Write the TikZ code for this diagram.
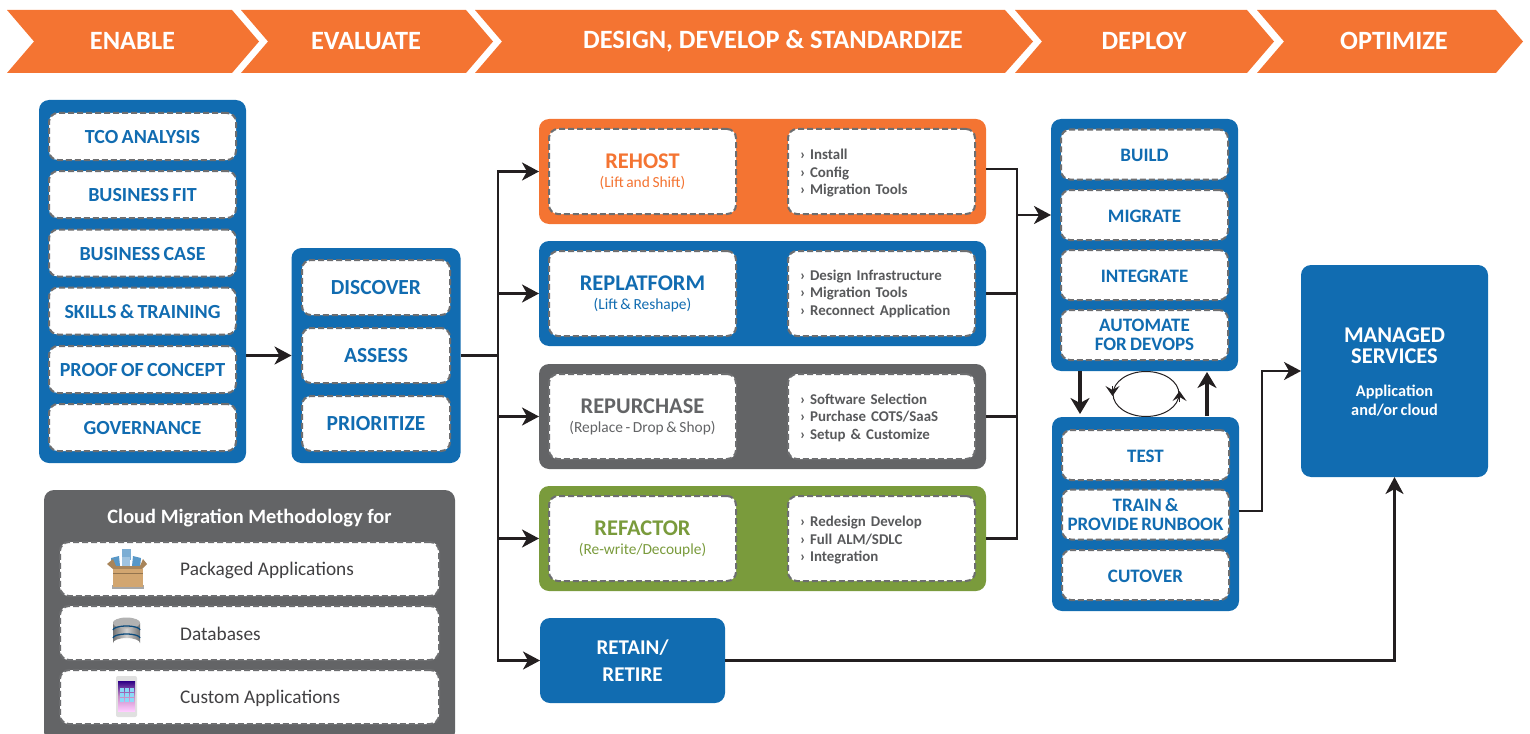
\documentclass[tikz,border=0pt]{standalone}
\usepackage{fontspec}
\setmainfont{Carlito}[WordSpace=0.75]
\newfontfamily\headfont{Carlito}
\usetikzlibrary{arrows.meta,shapes.geometric,calc}
\definecolor{corange}{HTML}{F47432}
\definecolor{cblue}{HTML}{116CB1}
\definecolor{cgray}{HTML}{636466}
\definecolor{cgreen}{HTML}{7A9B3C}
\definecolor{cdash}{HTML}{6D6E70}
\definecolor{ctext}{HTML}{58595B}
\definecolor{cdark}{HTML}{414042}
\definecolor{cline}{HTML}{231F20}
\definecolor{ctan}{HTML}{D2A670}
\newcommand{\fs}[2]{\fontsize{#1}{#2}\selectfont}
\newcommand{\st}[1]{\rule{0pt}{#1}}
\tikzset{
  x=1pt,y=-1pt,
  panel/.style={rounded corners=10pt,inner sep=0pt,outer sep=0pt},
  inbox/.style={fill=white,draw=cdash,line width=2pt,dash pattern=on 6pt off 3pt,rounded corners=9pt,inner sep=0pt,outer sep=0pt,align=center,text=cblue,font=\fs{20}{19}\bfseries},
  rowbox/.style={inbox,minimum width=187pt,minimum height=47pt,execute at begin node=\st{14.8pt}},
  evbox/.style={inbox,minimum width=148pt,minimum height=55pt,font=\fs{21.5}{22}\bfseries},
  depbox/.style={inbox,minimum width=167pt,minimum height=50pt,font=\fs{19}{18.5}\bfseries,execute at begin node=\st{14.2pt}},
  mainbox/.style={inbox,minimum width=187pt,minimum height=85pt,font=\fs{15.4}{19},execute at begin node=\st{20pt}},
  listbox/.style={inbox,minimum width=187pt,minimum height=85pt,align=left,text width=163pt,text=ctext,font=\fs{14.9}{17.5}\bfseries},
  appbox/.style={inbox,minimum width=379pt,minimum height=54pt},
  applabel/.style={anchor=west,text=cdark,inner sep=0pt,font=\headfont\fs{19.3}{20}},
  head/.style={text=white,font=\headfont\fs{26.4}{27}\bfseries},
  conn/.style={draw=cline,line width=2.2pt},
  flow/.style={draw=cline,line width=2.6pt,-{Stealth[length=17pt,width=18pt,inset=5pt]}},
  bigflow/.style={draw=cline,line width=3.2pt,-{Stealth[length=16pt,width=19pt,inset=5pt]}},
  tiny/.style={draw=cline,line width=1pt,-{Stealth[length=10pt,width=14pt,inset=4pt]}},
}
\begin{document}
\begin{tikzpicture}
\useasboundingbox (0,0) rectangle (1530,733);
% chevrons
\fill[corange] (7,10) -- (232,10) -- (259,41.5) -- (232,73) -- (7,73) -- (34,41.5) -- cycle;
\fill[corange] (241,10) -- (466,10) -- (493,41.5) -- (466,73) -- (241,73) -- (268,41.5) -- cycle;
\fill[corange] (475,10) -- (1005,10) -- (1033,41.5) -- (1005,73) -- (475,73) -- (502,41.5) -- cycle;
\fill[corange] (1015,10) -- (1247,10) -- (1274,41.5) -- (1247,73) -- (1015,73) -- (1042,41.5) -- cycle;
\fill[corange] (1257,10) -- (1496,10) -- (1523,41.5) -- (1496,73) -- (1257,73) -- (1284,41.5) -- cycle;
\node[head] (h1) at (132.5,41) {ENABLE};
\node[head] (h2) at (366,41) {EVALUATE};
\node[head] (h3) at (773,41) {DESIGN, DEVELOP \& STANDARDIZE};
\node[head] (h4) at (1144,41) {DEPLOY};
\node[head] (h5) at (1394,41) {OPTIMIZE};
% enable
\node[panel,fill=cblue,minimum width=207pt,minimum height=363pt] (enable) at (142.5,281.5) {};
\node[rowbox] (e1) at (142.5,136.5) {TCO ANALYSIS};
\node[rowbox] (e2) at (142.5,194.5) {BUSINESS FIT};
\node[rowbox] (e3) at (142.5,253) {BUSINESS CASE};
\node[rowbox] (e4) at (142.5,311) {SKILLS \& TRAINING};
\node[rowbox] (e5) at (142.5,369.5) {PROOF OF CONCEPT};
\node[rowbox] (e6) at (142.5,427.5) {GOVERNANCE};
% evaluate
\node[panel,fill=cblue,minimum width=169pt,minimum height=215pt] (evaluate) at (376,355.5) {};
\node[evbox] (v1) at (376,287.5) {DISCOVER};
\node[evbox] (v2) at (376,355.5) {ASSESS};
\node[evbox] (v3) at (376,423.5) {PRIORITIZE};
% methodology
\node[panel,fill=cgray,minimum width=411pt,minimum height=252pt] (method) at (249.5,616) {};
\node[text=white,font=\headfont\fs{20.4}{21}\bfseries] (mt) at (249.5,518.5) {Cloud Migration Methodology for};
\node[appbox] (a1) at (249.5,569) {};
\node[appbox] (a2) at (249.5,633) {};
\node[appbox] (a3) at (249.5,697) {};
\node[applabel] (a1t) at ($(a1.west)+(120,1)$) {Packaged Applications};
\node[applabel] (a2t) at ($(a2.west)+(120,0.5)$) {Databases};
\node[applabel] (a3t) at ($(a3.west)+(120,1)$) {Custom Applications};
% icon: packaged box
\fill[black!35] (112,585) rectangle (144,589);
\fill[cblue!55] (122,549) rectangle (131,560);
\fill[cblue!70] (111,558) -- (119,556) -- (120,566) -- (112,568) -- cycle;
\fill[white!60!cblue] (122,557) rectangle (130,567);
\fill[cblue!70] (133,556) -- (141,558) -- (140,568) -- (132,566) -- cycle;
\fill[ctan!80!black] (107,564) -- (113,559) -- (116,566) -- (140,566) -- (143,559) -- (147,564) -- (142,569) -- (113,569) -- cycle;
\fill[ctan] (113,569) rectangle (143,587);
\draw[ctan!70!black,line width=.5pt] (113,573) -- (143,573);
% icon: database
\shade[left color=black!55,right color=black!55,middle color=black!18] (113,623) -- (113,643) arc[start angle=180,end angle=360,x radius=13.5,y radius=5] -- (140,623) arc[start angle=0,end angle=-180,x radius=13.5,y radius=5] -- cycle;
\fill[black!30] (126.5,623) ellipse[x radius=13.5,y radius=5.5];
\draw[cblue!70!black,line width=1.3pt] (113,630) arc[start angle=180,end angle=360,x radius=13.5,y radius=4];
\draw[cblue!70!black,line width=1.3pt] (113,638) arc[start angle=180,end angle=360,x radius=13.5,y radius=4];
% icon: phone
\fill[black!12,rounded corners=2pt] (116,676) rectangle (137,717);
\shade[top color=blue!50!violet!70!black,bottom color=magenta!20,middle color=violet!45] (118,681) rectangle (135,711);
\foreach \ix in {120,125,130}{\foreach \iy in {688,693,698}{\fill[white!55!cyan] (\ix,\iy) rectangle +(3.5,3.5);}}
% strategies
\node[panel,fill=corange,minimum width=447pt,minimum height=105pt] (rehost) at (762.5,171.5) {};
\node[mainbox,text=corange] (rh1) at (642.5,171.5) {{\fs{22.4}{23}\bfseries REHOST}\\(Lift and Shift)};
\node[listbox,execute at begin node=\st{14pt}] (rh2) at (881.5,171.5) {› Install\\› Config\\› Migration Tools};
\node[panel,fill=cblue,minimum width=447pt,minimum height=105pt] (replat) at (762.5,293.5) {};
\node[mainbox,text=cblue] (rp1) at (642.5,293.5) {{\fs{22.4}{23}\bfseries REPLATFORM}\\(Lift \& Reshape)};
\node[listbox,execute at begin node=\st{10.5pt}] (rp2) at (881.5,293.5) {› Design Infrastructure\\› Migration Tools\\› Reconnect Application};
\node[panel,fill=cgray,minimum width=447pt,minimum height=105pt] (repur) at (762.5,416.5) {};
\node[mainbox,text=cgray] (ru1) at (642.5,416.5) {{\fs{22.4}{23}\bfseries REPURCHASE}\\(Replace - Drop \& Shop)};
\node[listbox,execute at begin node=\st{13pt}] (ru2) at (881.5,416.5) {› Software Selection\\› Purchase COTS/SaaS\\› Setup \& Customize};
\node[panel,fill=cgreen,minimum width=447pt,minimum height=105pt] (refac) at (762.5,538.5) {};
\node[mainbox,text=cgreen] (rf1) at (642.5,538.5) {{\fs{22.4}{23}\bfseries REFACTOR}\\(Re-write/Decouple)};
\node[listbox,execute at begin node=\st{14pt}] (rf2) at (881.5,538.5) {› Redesign Develop\\› Full ALM/SDLC\\› Integration};
\node[panel,fill=cblue,minimum width=185pt,minimum height=85pt,text=white,align=center,font=\fs{21}{27}\bfseries,execute at begin node=\st{16pt}] (retain) at (632.5,660.5) {RETAIN/\\RETIRE};
% deploy
\node[panel,fill=cblue,minimum width=187pt,minimum height=252pt] (deploy) at (1144.5,245) {};
\node[depbox] (d1) at (1144.5,154.5) {BUILD};
\node[depbox] (d2) at (1144.5,215) {MIGRATE};
\node[depbox] (d3) at (1144.5,275) {INTEGRATE};
\node[depbox] (d4) at (1144.5,335) {AUTOMATE\\FOR DEVOPS};
\node[panel,fill=cblue,minimum width=187pt,minimum height=194pt] (testp) at (1145.5,514) {};
\node[depbox] (t1) at (1145.5,455) {TEST};
\node[depbox] (t2) at (1145.5,514.5) {TRAIN \&\\PROVIDE RUNBOOK};
\node[depbox] (t3) at (1145.5,575) {CUTOVER};
% managed
\node[panel,fill=cblue,minimum width=187pt,minimum height=212pt] (managed) at (1394.5,371) {};
\node[text=white,align=center,font=\fs{22.5}{21}\bfseries] (m1) at (1394.5,345.5) {MANAGED\\SERVICES};
\node[text=white,align=center,font=\fs{16.3}{19}\bfseries] (m2) at (1394.5,400.5) {Application\\and/or cloud};
% connectors
\coordinate (lbus) at (498,355.5);
\coordinate (rbus) at (1017,215);
\coordinate (tbus) at (1262,371);
\coordinate (rhout) at ($(rehost.east)+(0,-2.5)$);
\coordinate (tout) at (testp.east |- 0,511);
\draw[flow] (enable.east |- evaluate.west) -- (evaluate.west);
\draw[conn,line width=2.6pt] (evaluate.east) -- (lbus);
\draw[flow] (lbus) |- (rehost.west);
\draw[flow] (lbus) |- (replat.west);
\draw[flow] (lbus) |- (repur.west);
\draw[flow] (lbus) |- (refac.west);
\draw[flow,line width=2.2pt] (lbus) |- (retain.west);
\draw[conn] (rhout) -| (rbus);
\draw[conn] (replat.east) -| (rbus);
\draw[conn] (repur.east) -| (rbus);
\draw[conn] (refac.east) -| (rbus);
\draw[flow] (rbus) -- (rbus -| deploy.west);
\draw[flow,line width=2.2pt] (tout) -| (tbus) -- (managed.west);
\draw[flow,line width=2.2pt] (retain.east) -| (managed.south);
\draw[bigflow] (1080,371) -- (1080,414);
\draw[bigflow] (1207,416) -- (1207,372);
\node[ellipse,draw=cline,line width=1pt,minimum width=66pt,minimum height=45pt,inner sep=0pt] (cyc) at (1146,394) {};
\draw[tiny] ($(cyc.west)+(0,-8)$) -- ($(cyc.west)+(0,2)$);
\draw[tiny] ($(cyc.east)+(0,8)$) -- ($(cyc.east)+(0,-3)$);
\end{tikzpicture}
\end{document}
